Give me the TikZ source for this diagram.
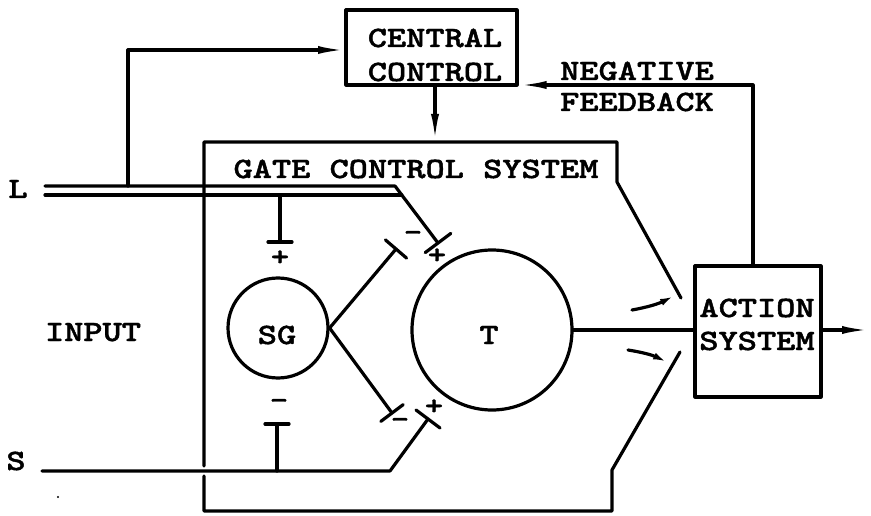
\documentclass[tikz,border=0pt]{standalone}
\usepackage{fontspec}
\newfontfamily\cw{lmmonolt10-bold.otf}[FakeStretch=1.24,FakeBold=1.5]
\usetikzlibrary{arrows.meta,calc}
\begin{document}
\begin{tikzpicture}[x=1pt,y=-1pt,
  ln/.style={line width=3.2pt, line cap=round, line join=round},
  lab/.style={font=\cw\fontsize{29.5}{32}\selectfont, inner sep=0pt, text height=18pt, text depth=0pt},
  sgn/.style={font=\cw\fontsize{28}{30}\selectfont, inner sep=0pt},
  box/.style={draw, ln, rectangle, inner sep=0pt},
  cell/.style={draw, circle, ln, inner sep=0pt},
  tip/.style={-{Latex[length=28pt,width=8pt]}},
  stip/.style={-{Latex[length=14pt,width=7pt]}},
]
\useasboundingbox (0,0) rectangle (871,516);

% boxes and cells
\node[box, minimum width=171pt, minimum height=75pt] (cc) at (431.5,47.5) {};
\node[box, minimum width=126pt, minimum height=131pt] (as) at (758,331.5) {};
\node[cell, minimum size=100pt] (sg) at (278,328) {};
\node[cell, minimum size=160pt] (t) at (492,330) {};

% texts
\node[lab] (cc1) at (435,38) {CENTRAL};
\node[lab] (cc2) at (435,72) {CONTROL};
\node[lab] (nf1) at (637,71) {NEGATIVE};
\node[lab] (nf2) at (637,102) {FEEDBACK};
\node[lab] (gcs) at (416,169) {GATE CONTROL SYSTEM};
\node[lab] (inp) at (93,332) {INPUT};
\node[lab] (sgt) at (277,335) {SG};
\node[lab] (tt) at (489,335) {T};
\node[lab] (as1) at (757,308) {ACTION};
\node[lab] (as2) at (757,341) {SYSTEM};
\node[lab] (lL) at (18,189) {L};
\node[lab] (lS) at (16,461) {S};

% signs
\node[sgn] (p1) at (280,258) {+};
\node[sgn] (m1) at (279,404) {-};
\node[sgn] (m2) at (413,236) {-};
\node[sgn] (p2) at (437,256) {+};
\node[sgn] (m3) at (400,423) {-};
\node[sgn] (p3) at (434,407) {+};

% gate control system outline
\draw[ln] (681,298) -- (617,182) -- (617,142) -- (204,142) -- (204,466);
\draw[ln] (204,476) -- (204,511) -- (612,511) -- (612,470) -- (680,352);

% coordinates
\coordinate (Lu) at (45,186);
\coordinate (Ll) at (45,195);
\coordinate (Lk) at (395,186);
\coordinate (Lt) at (438,243);
\coordinate (Lb) at (128,186);
\coordinate (ccin) at (346,50);
\coordinate (gtop) at (435,142);
\coordinate (fb) at (753,85);
\coordinate (out) at (870,330);
\coordinate (Ss) at (42,471);
\coordinate (Sk) at (390,471);
\coordinate (St) at (428,419);
\coordinate (sgu) at (396,249);
\coordinate (sgl) at (392,413);

% L fibres
\draw[ln] (Lu) -- (Lk) -- (Lt);
\draw[ln] (Ll) -- (401.8,195);
\draw[ln] (425.2,252.6) -- (450.8,233.4);
% L to SG
\draw[ln] (280,195) -- (280,242);
\draw[ln] (268,242) -- (292,242);
% S fibres
\draw[ln] (Ss) -- (Sk) -- (St);
\draw[ln] (416,410) -- (440,428);
% S to SG
\draw[ln] (277,471) -- (277,424);
\draw[ln] (265,424) -- (289,424);
% SG to T
\draw[ln] (sg.east) -- (sgu);
\draw[ln] (385.4,239.9) -- (406.6,258.1);
\draw[ln] (sg.east) -- (sgl);
\draw[ln] (380.8,421.4) -- (403.2,404.6);

% central control links
\draw[ln,tip] (Lb) |- (ccin);
\draw[ln,tip] (cc.south -| gtop) -- (gtop);
\draw[ln,tip] (as.north -| fb) -- (fb) -- (cc.east |- fb);

% T to action system
\draw[ln] (t.east) -- (t.east -| as.west);
\draw[ln,tip] (as.east |- out) -- (out);
\draw[ln,stip] (632,310) to[bend right=8] (674,296);
\draw[ln,stip] (628,350) to[bend left=8] (667,362);

\fill (58,497) circle (1.2pt);
\end{tikzpicture}
\end{document}
